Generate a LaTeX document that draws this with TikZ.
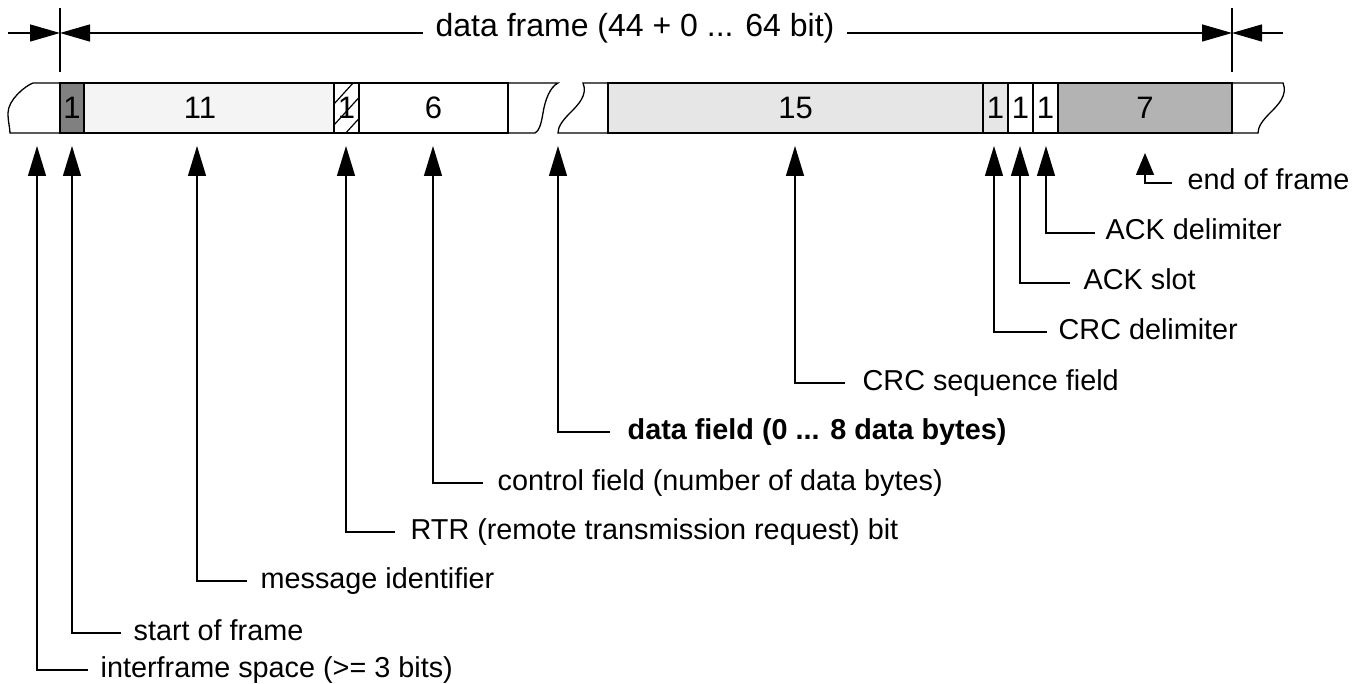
\documentclass[tikz,border=0pt]{standalone}
\usepackage{fontspec}
\setmainfont{Liberation Sans}
\usetikzlibrary{arrows.meta}
\definecolor{sofc}{HTML}{808080}
\definecolor{idc}{HTML}{F4F4F4}
\definecolor{crcc}{HTML}{E6E6E6}
\definecolor{eofc}{HTML}{B3B3B3}
\begin{document}
\begin{tikzpicture}[x=1pt,y=-1pt,line width=1.3pt,
  cell/.style={draw, inner sep=0pt, minimum height=50pt, font=\fontsize{31}{36}\selectfont},
  lbl/.style={anchor=west, inner sep=0pt, text height=20pt, text depth=6pt, font=\fontsize{28.8}{33}\selectfont},
  arr/.style={-{Triangle[length=30pt,width=18pt]}},
  sarr/.style={-{Triangle[length=22pt,width=18pt]}},
  tarr/.style={-{Triangle[length=30pt,width=17pt]}}]
\useasboundingbox (0,0) rectangle (1367,684);

% top dimension
\node[inner xsep=12pt, inner ysep=0pt, anchor=base, font=\fontsize{32}{38}\selectfont] (title) at (635,37) {data frame (44 + 0 ... 64 bit)};
\coordinate (vl) at (60,33);
\coordinate (vr) at (1232,33);
\coordinate (ol) at (8,33);
\coordinate (or) at (1283,33);
\coordinate (vlt) at (60,8);
\coordinate (vlb) at (60,72);
\coordinate (vrt) at (1232,8);
\coordinate (vrb) at (1232,72);
\draw (vlt) -- (vlb);
\draw (vrt) -- (vrb);
\draw[tarr] (ol) -- (vl);
\draw[tarr] (title.west |- vl) -- (vl);
\draw[tarr] (title.east |- vr) -- (vr);
\draw[tarr] (or) -- (vr);

% bar part 1
\draw[fill=white] (33,83) -- (558,83)
  .. controls (550,87) and (545,100) .. (543,113)
  .. controls (541,125) and (539,131) .. (535,133)
  -- (10,133)
  .. controls (10,128) and (8,122) .. (8,113)
  .. controls (8,100) and (25,86) .. (33,83) -- cycle;
% bar part 2
\draw[fill=white] (583,83) -- (1283,83)
  .. controls (1288,95) and (1278,105) .. (1270,113)
  .. controls (1262,121) and (1258,127) .. (1258,133)
  -- (558,133)
  .. controls (558,127) and (562,121) .. (570,113)
  .. controls (578,105) and (588,95) .. (583,83) -- cycle;

% cells
\node[cell, fill=sofc, minimum width=24pt] (sof) at (72,108) {1};
\node[cell, fill=idc, minimum width=250pt] (id) at (209,108) {};
\node[font=\fontsize{31}{36}\selectfont, inner sep=0pt] (idt) at (200,108) {11};
\begin{scope}
  \clip (334,83) rectangle (359,133);
  \foreach \k in {104,125,146} \draw[line width=1.2pt] (334,\k) -- ++(40,-44);
\end{scope}
\node[cell, minimum width=25pt] (rtr) at (346.5,108) {1};
\node[cell, minimum width=149pt] (ctl) at (433.5,108) {6};
\node[cell, fill=crcc, minimum width=375pt] (crc) at (795.5,108) {15};
\node[cell, fill=crcc, minimum width=25pt] (crcd) at (995.5,108) {1};
\node[cell, minimum width=25pt] (ack) at (1020.5,108) {1};
\node[cell, minimum width=25pt] (ackd) at (1045.5,108) {1};
\node[cell, fill=eofc, minimum width=174pt] (eof) at (1145,108) {7};

% arrow tips
\coordinate (tifs) at (37,146);
\coordinate (tsof) at (72,146);
\coordinate (tid) at (197,146);
\coordinate (trtr) at (346,146);
\coordinate (tctl) at (433,146);
\coordinate (tdata) at (558,146);
\coordinate (tcrc) at (795,146);
\coordinate (tcrcd) at (994,146);
\coordinate (tack) at (1020,146);
\coordinate (tackd) at (1046,146);
\coordinate (teof) at (1145,153);

% labels
\node[lbl] (Lifs) at (100,670) {interframe space (>= 3 bits)};
\node[lbl] (Lsof) at (133,633) {start of frame};
\node[lbl] (Lid) at (260,581) {message identifier};
\node[lbl] (Lrtr) at (410,532) {RTR (remote transmission request) bit};
\node[lbl] (Lctl) at (497,483) {control field (number of data bytes)};
\node[lbl, font=\fontsize{28.8}{33}\selectfont\bfseries] (Ldata) at (627,432) {data field (0 ... 8 data bytes)};
\node[lbl] (Lcrc) at (862,383) {CRC sequence field};
\node[lbl] (Lcrcd) at (1058,332) {CRC delimiter};
\node[lbl] (Lack) at (1083,283) {ACK slot};
\node[lbl] (Lackd) at (1105,233) {ACK delimiter};
\node[lbl] (Leof) at (1187,183) {end of frame};

\draw[arr] ([xshift=-12pt]Lifs.west) -| (tifs);
\draw[arr] ([xshift=-12pt]Lsof.west) -| (tsof);
\draw[arr] ([xshift=-13pt]Lid.west) -| (tid);
\draw[arr] ([xshift=-15pt]Lrtr.west) -| (trtr);
\draw[arr] ([xshift=-14pt]Lctl.west) -| (tctl);
\draw[arr] ([xshift=-17pt]Ldata.west) -| (tdata);
\draw[arr] ([xshift=-17pt]Lcrc.west) -| (tcrc);
\draw[arr] ([xshift=-11pt]Lcrcd.west) -| (tcrcd);
\draw[arr] ([xshift=-13pt]Lack.west) -| (tack);
\draw[arr] ([xshift=-10pt]Lackd.west) -| (tackd);
\draw[sarr] ([xshift=-15pt]Leof.west) -| (teof);
\end{tikzpicture}
\end{document}
